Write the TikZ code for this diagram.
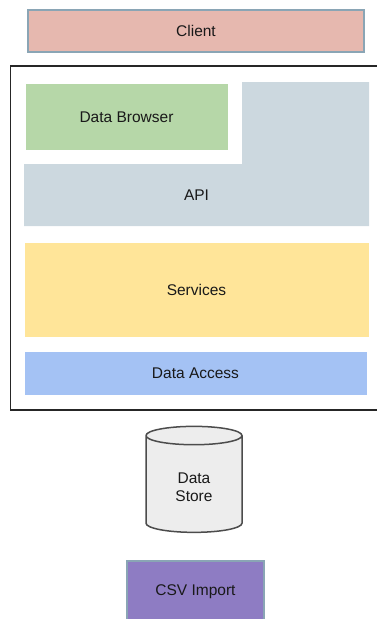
\documentclass[tikz,border=0pt]{standalone}
\usepackage{fontspec}
\setmainfont{Liberation Sans}
\usetikzlibrary{positioning,shapes.geometric}
\definecolor{clientred}{HTML}{E6B8AF}
\definecolor{edgeblue}{HTML}{8AA5B5}
\definecolor{browsergreen}{HTML}{B6D7A8}
\definecolor{apigray}{HTML}{CCD8DF}
\definecolor{serviceyellow}{HTML}{FFE599}
\definecolor{accessblue}{HTML}{A4C2F4}
\definecolor{importpurple}{HTML}{8E7CC3}
\tikzset{
    %Define style for layer boxes
    layer/.style={
             rectangle,
             draw=white, line width=0.6pt,
             text=black!90,
             font=\fontsize{15.5}{18}\selectfont},
    %Define style for outer boxes
    outerbox/.style={
             layer,
             draw=edgeblue, line width=2pt},
    % Define style for the store
    storenode/.style={
             cylinder, shape border rotate=90,
             draw=black!70, line width=1.5pt,
             fill=black!7, aspect=0.42,
             text=black!90,
             font=\fontsize{15.5}{18}\selectfont}
}
\begin{document}
\begin{tikzpicture}[x=1pt, y=-1pt]
 \useasboundingbox (0,0) rectangle (377,619);
 \node[outerbox, fill=clientred, minimum width=336, minimum height=42] (client) at (196,30.5) {Client};
 % server frame
 \draw[black!85, line width=1.5pt] (400,66) -- (10.5,66) -- (10.5,410) -- (400,410);
 % API layer wraps round the browser
 \fill[apigray] (24,164) -- (242,164) -- (242,82) -- (369,82) -- (369,226) -- (24,226) -- cycle;
 \node[font=\fontsize{15.5}{18}\selectfont, text=black!90] (api) at (196.5,195.5) {API};
 \node[layer, fill=browsergreen, minimum width=203, minimum height=67] (browser) at (126.5,117) {Data Browser};
 \node[layer, fill=serviceyellow, minimum width=345, minimum height=95] (services) at (196.5,289.5) {Services};
 \node[layer, fill=accessblue, minimum width=343, minimum height=44] (access) at (195.5,373) {Data Access};
 \node[storenode, minimum width=96, minimum height=106] (store) at (194,486)
   {\raisebox{0pt}[\dimexpr\height+6pt\relax]{\begin{tabular}{@{}c@{}}Data\\Store\end{tabular}}};
 \node[outerbox, fill=importpurple, minimum width=137, minimum height=62] (import) at (195.5,592) {CSV Import};
\end{tikzpicture}
\end{document}
